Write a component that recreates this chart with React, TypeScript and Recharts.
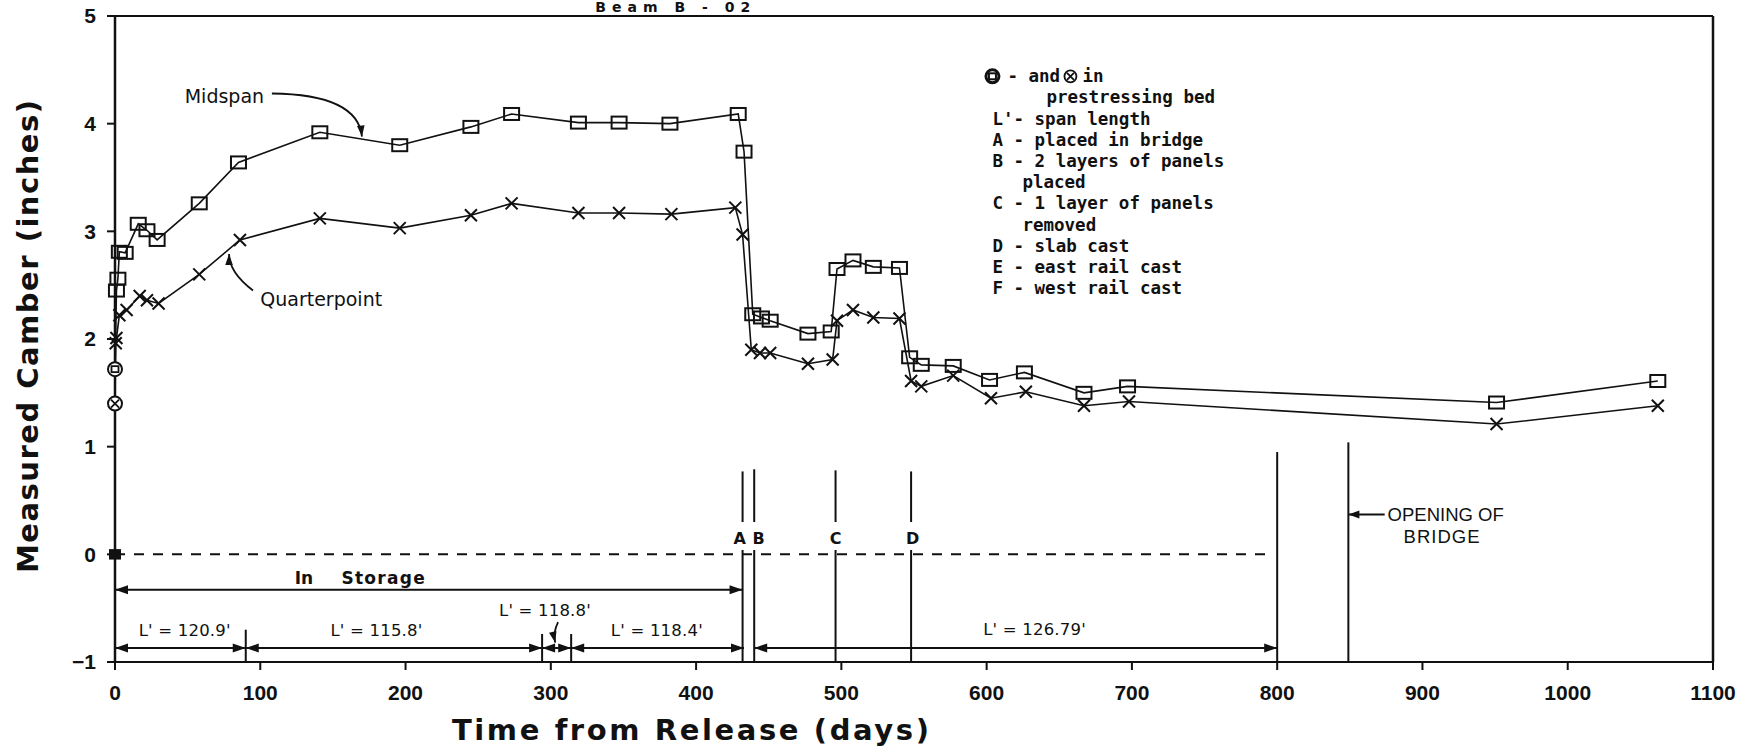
import React from 'react'
import { LineChart, Line, XAxis, YAxis, ReferenceLine, ReferenceDot } from 'recharts'

// ---- measured camber ----
const midDays = [0, 0, 1, 2, 3, 7, 16, 22, 29, 58, 85, 141, 196, 245, 273, 319, 347, 382, 429, 433, 439, 445, 451, 477, 493, 497, 508, 522, 540, 547, 555, 577, 602, 626, 667, 697, 951, 1062]
const midVals = [0, 1.72, 2.45, 2.56, 2.81, 2.8, 3.07, 3.01, 2.92, 3.26, 3.64, 3.92, 3.8, 3.97, 4.09, 4.01, 4.01, 4.0, 4.09, 3.74, 2.23, 2.2, 2.17, 2.05, 2.07, 2.65, 2.73, 2.67, 2.66, 1.83, 1.76, 1.75, 1.62, 1.69, 1.5, 1.56, 1.41, 1.61]

const qtrDays = [0, 0, 0.5, 1, 3, 8, 17, 22, 30, 58, 86, 141, 196, 245, 273, 319, 347, 383, 427, 432, 438, 444, 451, 477, 494, 497, 508, 522, 540, 548, 555, 577, 603, 627, 667, 698, 951, 1062]
const qtrVals = [0, 1.4, 1.96, 2.01, 2.22, 2.27, 2.4, 2.36, 2.33, 2.6, 2.92, 3.12, 3.03, 3.15, 3.26, 3.17, 3.17, 3.16, 3.22, 2.97, 1.9, 1.87, 1.87, 1.77, 1.81, 2.17, 2.27, 2.2, 2.19, 1.61, 1.56, 1.66, 1.45, 1.51, 1.38, 1.42, 1.21, 1.38]

const xTicks = [0, 100, 200, 300, 400, 500, 600, 700, 800, 900, 1000, 1100]
const yTicks = [-1, 0, 1, 2, 3, 4, 5]

// construction events
const eventNames = ['A', 'B', 'C', 'D']
const eventDays = [432, 440, 496, 548]
const eventLabelDays = [430, 443, 496, 549]
const eventTops = [0.77, 0.79, 0.78, 0.77]

// span length bands
const spanStarts = [0, 90, 294, 314, 440]
const spanEnds = [90, 294, 314, 433, 800]
const spanLabels = ["L' = 120.9'", "L' = 115.8'", "L' = 118.8'", "L' = 118.4'", "L' = 126.79'"]
const spanLabelDays = [48, 180, 296, 373, 633]
const spanLabelVals = [-0.71, -0.71, -0.52, -0.71, -0.7]
const spanBarDays = [90, 294, 314]
const spanBarTops = [-0.7, -0.74, -0.74]

const storageEnd = 432
const recordEnd = 800
const bridgeOpen = 849

const legendLines = ['prestressing bed', "L'- span length", 'A - placed in bridge', 'B - 2 layers of panels', 'placed', 'C - 1 layer of panels', 'removed', 'D - slab cast', 'E - east rail cast', 'F - west rail cast']
const legendIndent = [54, 0, 0, 0, 30, 0, 30, 0, 0, 0]

const midData = midDays.map((d, i) => ({ day: d, camber: midVals[i] }))
const qtrData = qtrDays.map((d, i) => ({ day: d, camber: qtrVals[i] }))

const INK = '#111'
const FONT_SANS = '"DejaVu Sans", Verdana, sans-serif'
const FONT_TICK = '"Liberation Sans", Arial, sans-serif'
const FONT_MONO = '"DejaVu Sans Mono", "Liberation Mono", monospace'

function headPath(x: number, y: number, ang: number, len = 13, half = 4.5) {
  const c = Math.cos(ang)
  const s = Math.sin(ang)
  const bx = x - len * c
  const by = y - len * s
  return `M${x},${y}L${bx - half * s},${by + half * c}L${bx + half * s},${by - half * c}Z`
}

const doubleArrow = (p: any) => {
  const { x1, y1, x2, y2 } = p
  const a = Math.atan2(y2 - y1, x2 - x1)
  return (
    <g>
      <line x1={x1} y1={y1} x2={x2} y2={y2} stroke={INK} strokeWidth={2} />
      <path d={headPath(x2, y2, a)} fill={INK} />
      <path d={headPath(x1, y1, a + Math.PI)} fill={INK} />
    </g>
  )
}

const singleArrow = (p: any) => {
  const { x1, y1, x2, y2 } = p
  const a = Math.atan2(y2 - y1, x2 - x1)
  return (
    <g>
      <line x1={x1} y1={y1} x2={x2} y2={y2} stroke={INK} strokeWidth={2} />
      <path d={headPath(x2, y2, a, 11, 4)} fill={INK} />
    </g>
  )
}

// curved leader; control point given as fractions of the start->end span
const curvedArrow = (fx: number, fy: number) => (p: any) => {
  const { x1, y1, x2, y2 } = p
  const qx = x1 + fx * (x2 - x1)
  const qy = y1 + fy * (y2 - y1)
  const a = Math.atan2(y2 - qy, x2 - qx)
  return (
    <g>
      <path d={`M${x1},${y1}Q${qx},${qy} ${x2},${y2}`} fill="none" stroke={INK} strokeWidth={1.8} />
      <path d={headPath(x2, y2, a, 11, 3.8)} fill={INK} />
    </g>
  )
}

const textShape = (text: string, size: number, opts: any = {}) => (p: any) => (
  <text
    x={p.cx}
    y={p.cy}
    fill={INK}
    fontSize={size}
    fontFamily={opts.family || FONT_SANS}
    fontWeight={opts.weight || 400}
    textAnchor={opts.anchor || 'middle'}
    dominantBaseline="central"
    letterSpacing={opts.ls || 0}
    transform={opts.rotate ? `rotate(${opts.rotate} ${p.cx} ${p.cy})` : undefined}
  >
    {text}
  </text>
)

const legendShape = (p: any) => {
  const { cx, cy } = p
  const rowH = 21.2
  return (
    <g fontFamily={FONT_MONO} fontWeight={700} fontSize={17.5} fill={INK}>
      <circle cx={cx} cy={cy} r={6.5} fill="none" stroke={INK} strokeWidth={3} />
      <rect x={cx - 3.5} y={cy - 3} width={7} height={6} fill="none" stroke={INK} strokeWidth={2} />
      <text x={cx + 15} y={cy + 6}>- and</text>
      <circle cx={cx + 78} cy={cy} r={6} fill="none" stroke={INK} strokeWidth={1.8} />
      <path d={`M${cx + 74.5},${cy - 3.5}L${cx + 81.5},${cy + 3.5}M${cx + 81.5},${cy - 3.5}L${cx + 74.5},${cy + 3.5}`} stroke={INK} strokeWidth={1.8} />
      <text x={cx + 90} y={cy + 6}>in</text>
      {legendLines.map((t, i) => (
        <text key={i} x={cx + legendIndent[i]} y={cy + 6 + (i + 1) * rowH}>{t}</text>
      ))}
    </g>
  )
}

const makeDot = (kind: 'sq' | 'x') => (p: any) => {
  const { cx, cy, index } = p
  const key = `${kind}-${index}`
  if (cx == null || cy == null) return <g key={key} />
  if (index === 0) {
    return <rect key={key} x={cx - 6} y={cy - 5} width={12} height={10} fill={INK} />
  }
  if (index === 1) {
    return (
      <g key={key}>
        <circle cx={cx} cy={cy} r={7} fill="#fff" stroke={INK} strokeWidth={2} />
        {kind === 'sq' ? (
          <rect x={cx - 3.5} y={cy - 3} width={7} height={6} fill="none" stroke={INK} strokeWidth={1.8} />
        ) : (
          <path d={`M${cx - 4},${cy - 4}L${cx + 4},${cy + 4}M${cx + 4},${cy - 4}L${cx - 4},${cy + 4}`} stroke={INK} strokeWidth={1.8} />
        )}
      </g>
    )
  }
  if (kind === 'sq') {
    return <rect key={key} x={cx - 7.5} y={cy - 6} width={15} height={12} fill="none" stroke={INK} strokeWidth={2} />
  }
  return (
    <path key={key} d={`M${cx - 6},${cy - 6}L${cx + 6},${cy + 6}M${cx + 6},${cy - 6}L${cx - 6},${cy + 6}`} stroke={INK} strokeWidth={2} fill="none" />
  )
}

export default function App() {
  return (
    <div style={{ position: 'absolute', left: 0, top: 0, width: 1756, height: 753, background: '#fff' }}>
      <LineChart width={1756} height={753} margin={{ top: 16, right: 43, bottom: 61, left: 55 }}>
        <XAxis
          dataKey="day"
          type="number"
          domain={[0, 1100]}
          ticks={xTicks}
          interval={0}
          height={30}
          tickSize={8}
          tickMargin={15}
          axisLine={{ stroke: INK, strokeWidth: 2 }}
          tickLine={{ stroke: INK, strokeWidth: 2 }}
          tick={{ fill: INK, fontSize: 21, fontWeight: 700, fontFamily: FONT_TICK }}
        />
        <YAxis
          type="number"
          domain={[-1, 5]}
          ticks={yTicks}
          interval={0}
          width={60}
          tickSize={8}
          tickMargin={11}
          axisLine={{ stroke: INK, strokeWidth: 2.5 }}
          tickLine={{ stroke: INK, strokeWidth: 2 }}
          tick={{ fill: INK, fontSize: 21, fontWeight: 700, fontFamily: FONT_TICK }}
          tickFormatter={(v: number) => (v < 0 ? `\u2212${-v}` : `${v}`)}
        />

        {/* frame */}
        <ReferenceLine y={5} stroke={INK} strokeWidth={2} />
        <ReferenceLine x={1100} stroke={INK} strokeWidth={2.5} />

        {/* zero line while in storage */}
        <ReferenceLine segment={[{ x: 0, y: 0 }, { x: 795, y: 0 }]} stroke={INK} strokeWidth={2} strokeDasharray="10 9" />

        {/* events A-D */}
        {eventDays.map((d, i) => (
          <ReferenceLine key={`et${i}`} segment={[{ x: d, y: eventTops[i] }, { x: d, y: 0.3 }]} stroke={INK} strokeWidth={2} />
        ))}
        {eventDays.map((d, i) => (
          <ReferenceLine key={`eb${i}`} segment={[{ x: d, y: 0.04 }, { x: d, y: -1 }]} stroke={INK} strokeWidth={2} />
        ))}
        {eventNames.map((n, i) => (
          <ReferenceDot key={`en${i}`} x={eventLabelDays[i]} y={0.15} r={0} shape={textShape(n, 16, { weight: 700 })} />
        ))}

        {/* end of record, opening of bridge */}
        <ReferenceLine segment={[{ x: recordEnd, y: 0.95 }, { x: recordEnd, y: -1 }]} stroke={INK} strokeWidth={2} />
        <ReferenceLine segment={[{ x: bridgeOpen, y: 1.04 }, { x: bridgeOpen, y: -1 }]} stroke={INK} strokeWidth={2} />
        <ReferenceLine segment={[{ x: 874, y: 0.37 }, { x: bridgeOpen, y: 0.37 }]} shape={singleArrow} />
        <ReferenceDot x={876} y={0.37} r={0} shape={textShape('OPENING OF', 18.5, { anchor: 'start', family: FONT_TICK })} />
        <ReferenceDot x={887} y={0.17} r={0} shape={textShape('BRIDGE', 18.5, { anchor: 'start', family: FONT_TICK, ls: 1 })} />

        {/* storage period */}
        <ReferenceLine segment={[{ x: 0, y: -0.33 }, { x: storageEnd, y: -0.33 }]} shape={doubleArrow} />
        <ReferenceDot x={130} y={-0.22} r={0} shape={textShape('In', 17, { weight: 700 })} />
        <ReferenceDot x={185} y={-0.22} r={0} shape={textShape('Storage', 17, { weight: 700, ls: 1.3 })} />

        {/* span lengths */}
        {spanStarts.map((s, i) => (
          <ReferenceLine key={`sp${i}`} segment={[{ x: s, y: -0.87 }, { x: spanEnds[i], y: -0.87 }]} shape={doubleArrow} />
        ))}
        {spanBarDays.map((d, i) => (
          <ReferenceLine key={`sb${i}`} segment={[{ x: d, y: spanBarTops[i] }, { x: d, y: -1 }]} stroke={INK} strokeWidth={2} />
        ))}
        {spanLabels.map((t, i) => (
          <ReferenceDot key={`sl${i}`} x={spanLabelDays[i]} y={spanLabelVals[i]} r={0} shape={textShape(t, 16.5, { ls: 0.2 })} />
        ))}
        <ReferenceLine segment={[{ x: 305, y: -0.63 }, { x: 303, y: -0.82 }]} shape={curvedArrow(1.8, 0.5)} />

        {/* series labels */}
        <ReferenceDot x={48} y={4.26} r={0} shape={textShape('Midspan', 19, { anchor: 'start' })} />
        <ReferenceLine segment={[{ x: 108, y: 4.28 }, { x: 170, y: 3.88 }]} shape={curvedArrow(0.95, 0.02)} />
        <ReferenceDot x={100} y={2.37} r={0} shape={textShape('Quarterpoint', 19, { anchor: 'start' })} />
        <ReferenceLine segment={[{ x: 95, y: 2.45 }, { x: 78.5, y: 2.79 }]} shape={curvedArrow(1, 0.5)} />

        {/* notes */}
        <ReferenceDot x={604} y={4.44} r={0} shape={legendShape} />

        {/* titles */}
        <ReferenceDot x={386} y={5} r={0} ifOverflow="visible" shape={(p: any) => (
          <text x={p.cx} y={p.cy - 4} textAnchor="middle" fontSize={14} fontWeight={700} fontFamily={FONT_SANS} letterSpacing={6} fill={INK}>Beam B - 02</text>
        )} />
        <ReferenceDot x={397} y={-1.63} r={0} ifOverflow="visible" shape={textShape('Time from Release (days)', 29, { weight: 700, ls: 2.6 })} />
        <ReferenceDot x={-60} y={2.03} r={0} ifOverflow="visible" shape={textShape('Measured Camber (inches)', 29, { weight: 700, ls: 1.5, rotate: -90 })} />

        <Line data={midData} dataKey="camber" type="linear" stroke={INK} strokeWidth={1.6} dot={makeDot('sq')} activeDot={false} isAnimationActive={false} />
        <Line data={qtrData} dataKey="camber" type="linear" stroke={INK} strokeWidth={1.6} dot={makeDot('x')} activeDot={false} isAnimationActive={false} />
      </LineChart>
    </div>
  )
}
